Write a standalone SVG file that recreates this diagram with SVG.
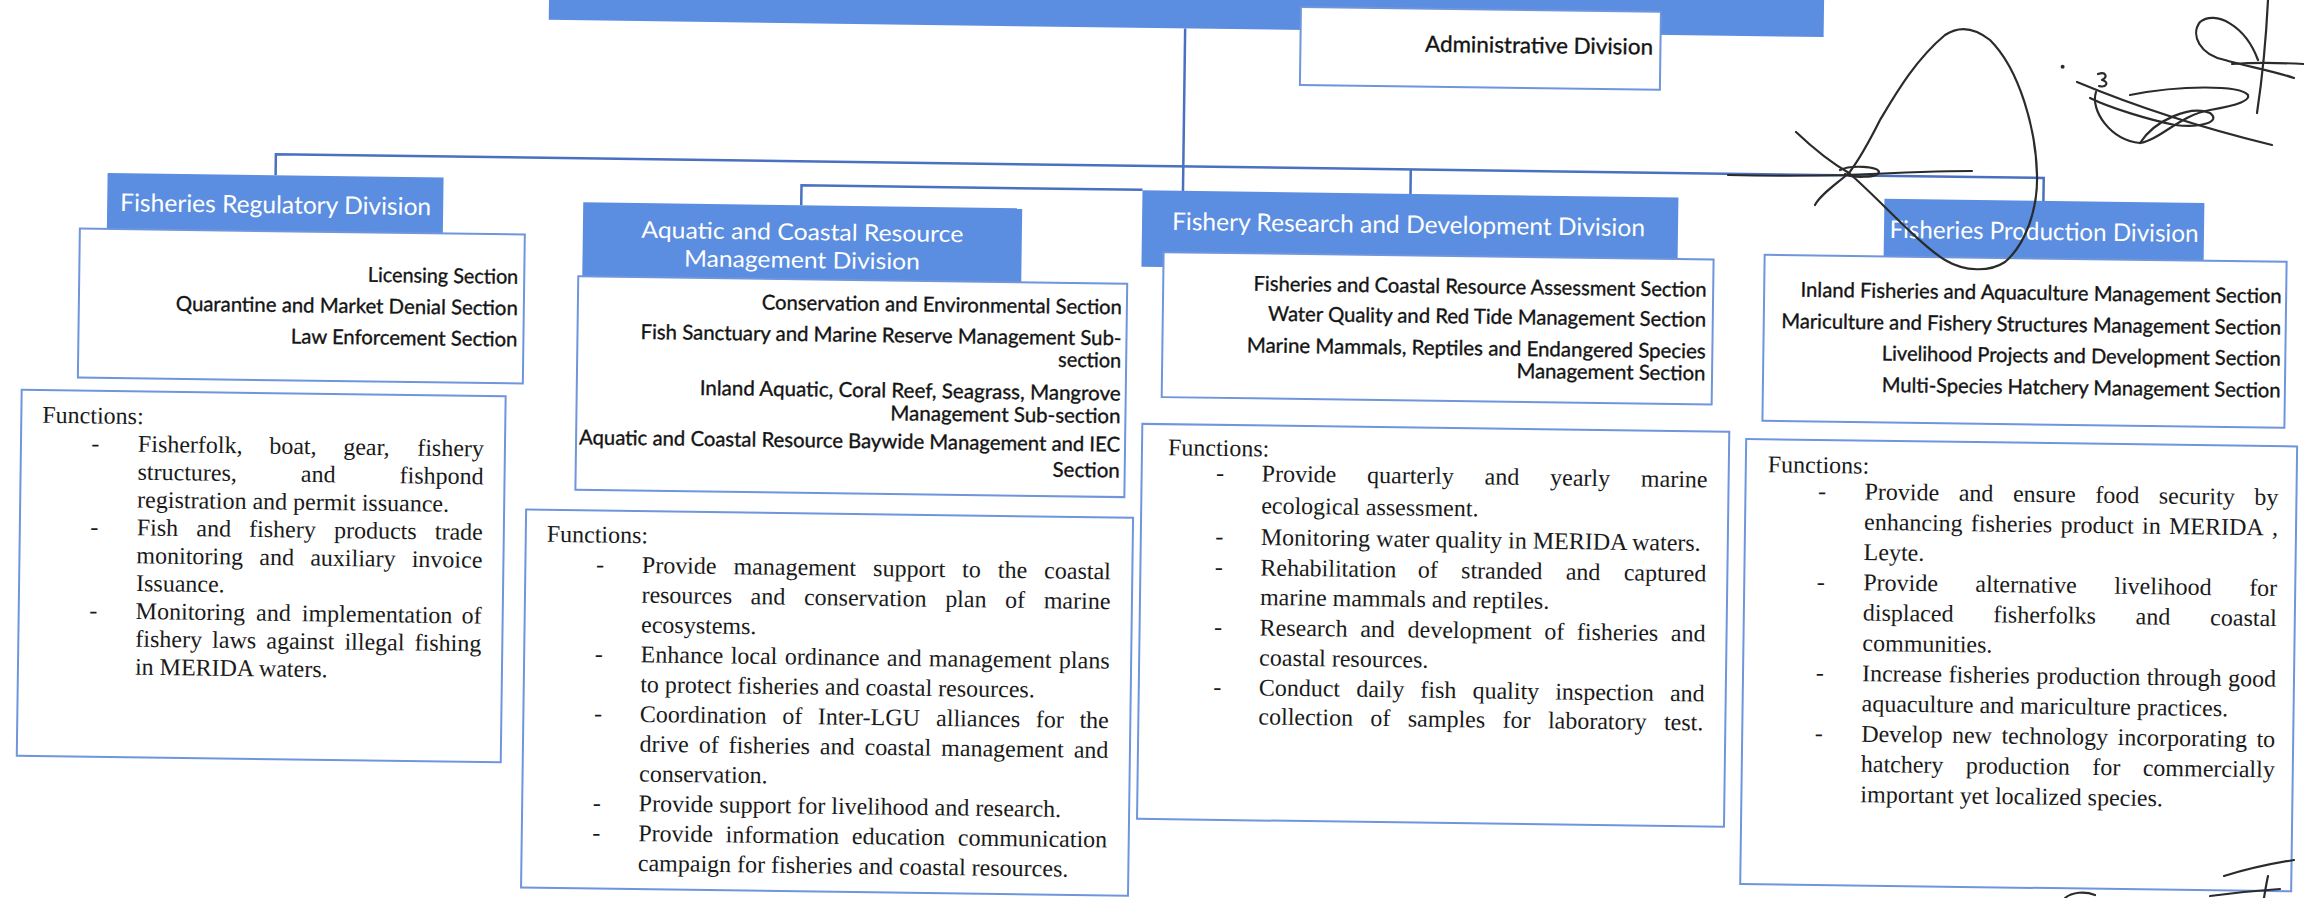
<svg xmlns="http://www.w3.org/2000/svg" width="2304" height="898" viewBox="0 0 2304 898">
<style>
  .hdr{fill:#5b8ee0}
  .box{fill:#fff;stroke:#6f95dc;stroke-width:2}
  .ln{fill:none;stroke:#4a70c2;stroke-width:2.5}
  .ht{font-family:Lato,"Liberation Sans",sans-serif;font-size:24.5px;fill:#fff}
  .ht2{font-family:Lato,"Liberation Sans",sans-serif;font-size:23px;fill:#fff}
  .at{font-family:Lato,"Liberation Sans",sans-serif;font-size:22.3px;fill:#141414;stroke:#141414;stroke-width:0.35}
  .st{font-family:Lato,"Liberation Sans",sans-serif;font-size:20.5px;fill:#141414;stroke:#141414;stroke-width:0.35}
  .ft{font-family:"Liberation Serif","Times New Roman",serif;font-size:24px;fill:#1a1a1a}
  .sig{fill:none;stroke:#2b2b2b;stroke-width:2.2;stroke-linecap:round;stroke-linejoin:round}
</style>
<rect width="2304" height="898" fill="#fff"/>

<!-- the whole chart sits on a page turned slightly clockwise -->
<g transform="rotate(0.77 1152 449)">

  <g id="office-banner">
    <rect class="hdr" x="543" y="-40" width="1275" height="68"/>
  </g>

  <g id="connectors">
    <path class="ln" d="M272,187 V166 H2040 V189"/>
    <path class="ln" d="M1179.5,28 V190.5"/>
    <path class="ln" d="M1407,166 V190.5"/>
    <path class="ln" d="M798,210 V190 H1139"/>
  </g>

  <g id="administrative-division">
    <rect class="box" x="1295" y="5" width="360" height="78"/>
    <text class="at" x="1419.6" y="48" textLength="228" lengthAdjust="spacingAndGlyphs">Administrative Division</text>
  </g>

  <!-- Fisheries Regulatory Division -->
  <g id="fisheries-regulatory-division">
    <rect class="hdr" x="104" y="187" width="336" height="63"/>
    <text class="ht" x="117" y="225" textLength="311" lengthAdjust="spacingAndGlyphs">Fisheries Regulatory Division</text>
    <rect class="box" x="77" y="243" width="445" height="149"/>
    <text class="st" x="365.6" y="292.4" textLength="150.4" lengthAdjust="spacingAndGlyphs">Licensing Section</text>
    <text class="st" x="174" y="323.8" textLength="342" lengthAdjust="spacingAndGlyphs">Quarantine and Market Denial Section</text>
    <text class="st" x="289.5" y="355" textLength="226.5" lengthAdjust="spacingAndGlyphs">Law Enforcement Section</text>

    <rect class="box" x="21" y="405" width="484" height="366"/>
    <text class="ft" x="42" y="437.7">Functions:</text>
    <text class="ft" x="91.5" y="465.5">-</text>
    <text class="ft" x="91.5" y="549">-</text>
    <text class="ft" x="91.5" y="632.6">-</text>
    <text class="ft" y="465.5"><tspan x="138">Fisherfolk,</tspan> <tspan x="269.35">boat,</tspan> <tspan x="343.37">gear,</tspan> <tspan x="417.36">fishery</tspan></text>
    <text class="ft" y="493.3"><tspan x="138">structures,</tspan> <tspan x="301.33">and</tspan> <tspan x="400.01">fishpond</tspan></text>
    <text class="ft" x="138" y="521.2">registration and permit issuance.</text>
    <text class="ft" y="549"><tspan x="138">Fish</tspan> <tspan x="197.53">and</tspan> <tspan x="250.37">fishery</tspan> <tspan x="335.2">products</tspan> <tspan x="436.04">trade</tspan></text>
    <text class="ft" y="576.9"><tspan x="138">monitoring</tspan> <tspan x="260.91">and</tspan> <tspan x="311.8">auxiliary</tspan> <tspan x="413.35">invoice</tspan></text>
    <text class="ft" x="138" y="604.7">Issuance.</text>
    <text class="ft" y="632.6"><tspan x="138">Monitoring</tspan> <tspan x="258.41">and</tspan> <tspan x="304.14">implementation</tspan> <tspan x="464.01">of</tspan></text>
    <text class="ft" y="660.4"><tspan x="138">fishery</tspan> <tspan x="214.83">laws</tspan> <tspan x="269">against</tspan> <tspan x="347.17">illegal</tspan> <tspan x="417.35">fishing</tspan></text>
    <text class="ft" x="138" y="688.3">in MERIDA waters.</text>
  </g>

  <!-- Aquatic and Coastal Resource Management Division -->
  <g id="aquatic-coastal-division">
    <rect class="hdr" x="580" y="210" width="439" height="80"/>
    <text class="ht2" x="638.5" y="244.7" textLength="322" lengthAdjust="spacingAndGlyphs">Aquatic and Coastal Resource</text>
    <text class="ht2" x="681.5" y="272.7" textLength="236" lengthAdjust="spacingAndGlyphs">Management Division</text>
    <rect class="box" x="576" y="284" width="549" height="213.5"/>
    <text class="st" x="760" y="314.7" textLength="360" lengthAdjust="spacingAndGlyphs">Conservation and Environmental Section</text>
    <text class="st" x="639" y="345.8" textLength="481" lengthAdjust="spacingAndGlyphs">Fish Sanctuary and Marine Reserve Management Sub-</text>
    <text class="st" x="1057" y="368" textLength="63" lengthAdjust="spacingAndGlyphs">section</text>
    <text class="st" x="699" y="401" textLength="421" lengthAdjust="spacingAndGlyphs">Inland Aquatic, Coral Reef, Seagrass, Mangrove</text>
    <text class="st" x="890" y="423.7" textLength="230" lengthAdjust="spacingAndGlyphs">Management Sub-section</text>
    <text class="st" x="579" y="452" textLength="541" lengthAdjust="spacingAndGlyphs">Aquatic and Coastal Resource Baywide Management and IEC</text>
    <text class="st" x="1053" y="478" textLength="67" lengthAdjust="spacingAndGlyphs">Section</text>

    <rect class="box" x="527" y="518" width="607" height="378"/>
    <text class="ft" x="548" y="550">Functions:</text>
    <text class="ft" x="597.6" y="579.8">-</text>
    <text class="ft" x="597.6" y="669.2">-</text>
    <text class="ft" x="597.6" y="728.8">-</text>
    <text class="ft" x="597.6" y="818.2">-</text>
    <text class="ft" x="597.6" y="848">-</text>
    <text class="ft" y="579.8"><tspan x="643.5">Provide</tspan> <tspan x="735.17">management</tspan> <tspan x="874.82">support</tspan> <tspan x="963.83">to</tspan> <tspan x="999.51">the</tspan> <tspan x="1045.85">coastal</tspan></text>
    <text class="ft" y="609.6"><tspan x="643.5">resources</tspan> <tspan x="752.74">and</tspan> <tspan x="806.02">conservation</tspan> <tspan x="947.28">plan</tspan> <tspan x="1007.23">of</tspan> <tspan x="1045.84">marine</tspan></text>
    <text class="ft" x="643.5" y="639.4">ecosystems.</text>
    <text class="ft" y="669.2"><tspan x="643.5">Enhance</tspan> <tspan x="733.55">local</tspan> <tspan x="787.63">ordinance</tspan> <tspan x="889.68">and</tspan> <tspan x="931.76">management</tspan> <tspan x="1061.82">plans</tspan></text>
    <text class="ft" x="643.5" y="699">to protect fisheries and coastal resources.</text>
    <text class="ft" y="728.8"><tspan x="643.5">Coordination</tspan> <tspan x="785.86">of</tspan> <tspan x="821.54">Inter-LGU</tspan> <tspan x="939.85">alliances</tspan> <tspan x="1039.52">for</tspan> <tspan x="1083.19">the</tspan></text>
    <text class="ft" y="758.6"><tspan x="643.5">drive</tspan> <tspan x="702.78">of</tspan> <tspan x="732.73">fisheries</tspan> <tspan x="824">and</tspan> <tspan x="868.62">coastal</tspan> <tspan x="945.23">management</tspan> <tspan x="1077.83">and</tspan></text>
    <text class="ft" x="643.5" y="788.4">conservation.</text>
    <text class="ft" x="643.5" y="818.2">Provide support for livelihood and research.</text>
    <text class="ft" y="848"><tspan x="643.5">Provide</tspan> <tspan x="730.95">information</tspan> <tspan x="857.07">education</tspan> <tspan x="963.17">communication</tspan></text>
    <text class="ft" x="643.5" y="877.8">campaign for fisheries and coastal resources.</text>
  </g>

  <!-- Fishery Research and Development Division -->
  <g id="fishery-research-division">
    <rect class="hdr" x="1139" y="190.5" width="536" height="76.5"/>
    <text class="ht" x="1169" y="229.7" textLength="473" lengthAdjust="spacingAndGlyphs">Fishery Research and Development Division</text>
    <rect class="box" x="1161" y="252" width="550" height="145"/>
    <text class="st" x="1251.4" y="289.3" textLength="453" lengthAdjust="spacingAndGlyphs">Fisheries and Coastal Resource Assessment Section</text>
    <text class="st" x="1266.4" y="319.3" textLength="438" lengthAdjust="spacingAndGlyphs">Water Quality and Red Tide Management Section</text>
    <text class="st" x="1245.4" y="351" textLength="459" lengthAdjust="spacingAndGlyphs">Marine Mammals, Reptiles and Endangered Species</text>
    <text class="st" x="1515.4" y="373" textLength="189" lengthAdjust="spacingAndGlyphs">Management Section</text>

    <rect class="box" x="1142" y="424" width="587" height="395"/>
    <text class="ft" x="1168" y="455">Functions:</text>
    <text class="ft" x="1216.5" y="480">-</text>
    <text class="ft" x="1216.5" y="543.5">-</text>
    <text class="ft" x="1216.5" y="574">-</text>
    <text class="ft" x="1216.5" y="634">-</text>
    <text class="ft" x="1216.5" y="694">-</text>
    <text class="ft" y="480"><tspan x="1262">Provide</tspan> <tspan x="1367.51">quarterly</tspan> <tspan x="1485">and</tspan> <tspan x="1550.51">yearly</tspan> <tspan x="1641.34">marine</tspan></text>
    <text class="ft" x="1262" y="512">ecological assessment.</text>
    <text class="ft" x="1262" y="543.5">Monitoring water quality in MERIDA waters.</text>
    <text class="ft" y="574"><tspan x="1262">Rehabilitation</tspan> <tspan x="1419.46">of</tspan> <tspan x="1462.77">stranded</tspan> <tspan x="1567.4">and</tspan> <tspan x="1625.38">captured</tspan></text>
    <text class="ft" x="1262" y="603.5">marine mammals and reptiles.</text>
    <text class="ft" y="634"><tspan x="1262">Research</tspan> <tspan x="1362.65">and</tspan> <tspan x="1410">development</tspan> <tspan x="1546.67">of</tspan> <tspan x="1579.35">fisheries</tspan> <tspan x="1673.35">and</tspan></text>
    <text class="ft" x="1262" y="664">coastal resources.</text>
    <text class="ft" y="694"><tspan x="1262">Conduct</tspan> <tspan x="1359.47">daily</tspan> <tspan x="1423.6">fish</tspan> <tspan x="1475.73">quality</tspan> <tspan x="1558.53">inspection</tspan> <tspan x="1673.32">and</tspan></text>
    <text class="ft" y="723"><tspan x="1262">collection</tspan> <tspan x="1374.07">of</tspan> <tspan x="1411.47">samples</tspan> <tspan x="1506.21">for</tspan> <tspan x="1551.6">laboratory</tspan> <tspan x="1667.65">test.</tspan></text>
  </g>

  <!-- Fisheries Production Division -->
  <g id="fisheries-production-division">
    <rect class="hdr" x="1881" y="189" width="320" height="63"/>
    <text class="ht" x="1886.5" y="228" textLength="309" lengthAdjust="spacingAndGlyphs">Fisheries Production Division</text>
    <rect class="box" x="1762" y="246.6" width="522" height="166"/>
    <text class="st" x="1798.5" y="288" textLength="481" lengthAdjust="spacingAndGlyphs">Inland Fisheries and Aquaculture Management Section</text>
    <text class="st" x="1779.5" y="319.6" textLength="500" lengthAdjust="spacingAndGlyphs">Mariculture and Fishery Structures Management Section</text>
    <text class="st" x="1880.5" y="350.6" textLength="399" lengthAdjust="spacingAndGlyphs">Livelihood Projects and Development Section</text>
    <text class="st" x="1881" y="382.3" textLength="398.6" lengthAdjust="spacingAndGlyphs">Multi-Species Hatchery Management Section</text>

    <rect class="box" x="1746" y="431" width="551" height="445"/>
    <text class="ft" x="1768" y="464">Functions:</text>
    <text class="ft" x="1818.7" y="490">-</text>
    <text class="ft" x="1818.7" y="580.8">-</text>
    <text class="ft" x="1818.7" y="671.6">-</text>
    <text class="ft" x="1818.7" y="732.1">-</text>
    <text class="ft" y="490"><tspan x="1865">Provide</tspan> <tspan x="1959.27">and</tspan> <tspan x="2013.54">ensure</tspan> <tspan x="2095.79">food</tspan> <tspan x="2159.39">security</tspan> <tspan x="2254.98">by</tspan></text>
    <text class="ft" y="520.3"><tspan x="1865">enhancing</tspan> <tspan x="1971.92">fisheries</tspan> <tspan x="2061.51">product</tspan> <tspan x="2143.11">in</tspan> <tspan x="2170.06">MERIDA</tspan> <tspan x="2273">,</tspan></text>
    <text class="ft" x="1865" y="550.5">Leyte.</text>
    <text class="ft" y="580.8"><tspan x="1865">Provide</tspan> <tspan x="1977.23">alternative</tspan> <tspan x="2116.1">livelihood</tspan> <tspan x="2251.01">for</tspan></text>
    <text class="ft" y="611"><tspan x="1865">displaced</tspan> <tspan x="1995.45">fisherfolks</tspan> <tspan x="2137.9">and</tspan> <tspan x="2212.36">coastal</tspan></text>
    <text class="ft" x="1865" y="641.3">communities.</text>
    <text class="ft" y="671.6"><tspan x="1865">Increase</tspan> <tspan x="1951.47">fisheries</tspan> <tspan x="2039.31">production</tspan> <tspan x="2149.83">through</tspan> <tspan x="2231.02">good</tspan></text>
    <text class="ft" x="1865" y="701.8">aquaculture and mariculture practices.</text>
    <text class="ft" y="732.1"><tspan x="1865">Develop</tspan> <tspan x="1955.83">new</tspan> <tspan x="2005.33">technology</tspan> <tspan x="2121.51">incorporating</tspan> <tspan x="2260.34">to</tspan></text>
    <text class="ft" y="762.3"><tspan x="1865">hatchery</tspan> <tspan x="1970.1">production</tspan> <tspan x="2096.56">for</tspan> <tspan x="2147.01">commercially</tspan></text>
    <text class="ft" x="1865" y="792.6">important yet localized species.</text>
  </g>
</g>

<!-- ink signatures written over the printed chart -->
<g id="signatures">
  <path class="sig" d="M1796,132 C1815,150 1835,165 1849,173 C1880,200 1920,245 1945,260 C1965,272 1990,272 2005,262 C2025,245 2038,210 2037,175 C2036,130 2020,70 1990,40 C1975,28 1960,25 1945,35 C1915,60 1895,95 1880,120 C1865,150 1855,165 1849,173 C1835,185 1820,195 1815,205"/>
  <path class="sig" d="M1728,175 C1770,176 1810,176 1849,175 C1890,173 1930,171 1972,171"/>
  <path class="sig" d="M1840,170 C1850,165 1878,166 1879,172 C1878,178 1852,178 1845,174"/>
  <path class="sig" d="M2268,0 C2266,40 2262,80 2257,113"/>
  <path class="sig" d="M2294,78 C2270,70 2245,66 2225,60 C2200,55 2190,35 2200,22 C2215,10 2245,25 2258,60"/>
  <path class="sig" d="M2232,64 C2260,62 2285,63 2304,64"/>
  <path class="sig" d="M2077,82 C2120,100 2190,125 2272,145"/>
  <path class="sig" d="M2096,92 C2090,110 2110,140 2140,143 C2160,140 2180,115 2210,110 C2240,105 2250,100 2248,95 C2240,85 2180,85 2130,95"/>
  <path class="sig" d="M2140,143 C2155,120 2190,105 2210,113 C2222,122 2200,128 2175,125 C2150,120 2110,108 2090,98"/>
  <path class="sig" d="M2098,74 C2106,71 2108,77 2102,80 C2110,82 2106,88 2099,86"/>
  <circle cx="2062.6" cy="66.7" r="2" fill="#2b2b2b"/>
  <path class="sig" d="M2224,876 C2250,868 2275,863 2294,860"/>
  <path class="sig" d="M2210,896 C2240,892 2265,890 2280,889"/>
  <path class="sig" d="M2268,876 C2266,885 2265,892 2264,898"/>
  <path class="sig" d="M2065,898 C2072,892 2085,891 2095,895"/>
</g>
</svg>
